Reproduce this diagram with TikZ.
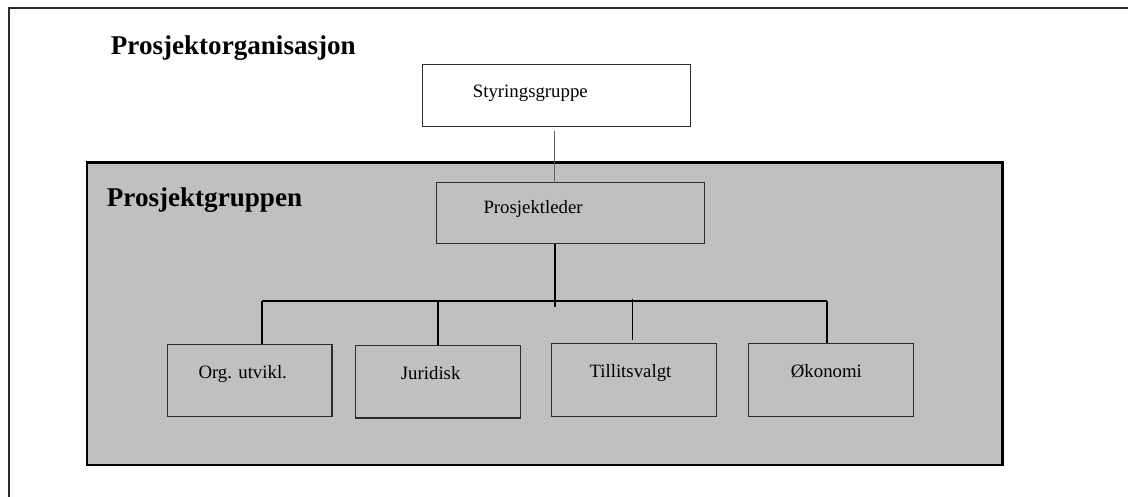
\documentclass[tikz,border=0pt]{standalone}
\usepackage{fontspec}
\setmainfont{Liberation Serif}
\usetikzlibrary{calc}

\definecolor{panelgray}{RGB}{192,192,192}
\definecolor{boxline}{RGB}{45,45,45}
\definecolor{thinline}{RGB}{95,95,95}

\tikzset{
  orgbox/.style={draw=boxline, line width=1.2pt, rectangle, inner sep=0pt,
                 anchor=north west, minimum width=#1, minimum height=62pt},
  orgbox/.default=268pt,
  boxtext/.style={anchor=base west, inner sep=0pt,
                  font=\fontsize{18.8pt}{22pt}\selectfont},
  headtext/.style={anchor=base west, inner sep=0pt,
                   font=\fontsize{27.1pt}{31pt}\selectfont\bfseries},
  bus/.style={line width=2pt, draw=black},
  drop/.style={line width=1.6pt, draw=black},
}

\begin{document}
\begin{tikzpicture}[x=1pt, y=-1pt]
  \useasboundingbox (0,0) rectangle (1128,497);

  % outer frame (top and left edges)
  \draw[line width=2pt, draw=boxline] (9,497) -- (9,8) -- (1128,8);

  % project group panel
  \draw[fill=panelgray, draw=black, line width=2.6pt] (87,162.5) rectangle (1002.5,465);

  % headings
  \node[headtext] (title) at (110.7,54.3) {Prosjektorganisasjon};
  \node[headtext] (group) at (106.7,206.7) {Prosjektgruppen};

  % steering group and project leader
  \node[orgbox, fill=white] (sty) at (421.7,64) {};
  \node[boxtext] (styt) at (472.7,97.7) {Styringsgruppe};

  \node[orgbox, minimum height=61.6pt] (pl) at (435.7,181.7) {};
  \node[boxtext] (plt) at (483.3,213.3) {Prosjektleder};

  % sub-groups
  \node[orgbox={164.6pt}, minimum height=72pt] (org) at (166.7,344) {};
  \node[boxtext] (orgt) at (198.3,378.3) {Org. utvikl.};

  \node[orgbox={165pt}, minimum height=72.3pt] (jur) at (355,345) {};
  \node[boxtext] (jurt) at (400.7,379) {Juridisk};

  \node[orgbox={164.7pt}, minimum height=73pt] (til) at (551,342.7) {};
  \node[boxtext] (tilt) at (589.3,377.3) {Tillitsvalgt};

  \node[orgbox={164.7pt}, minimum height=73pt] (oko) at (748,342.7) {};
  \node[boxtext] (okot) at (790.7,377.3) {Økonomi};

  % bus junctions
  \coordinate (jorg) at (262,301);
  \coordinate (jjur) at (437.7,301);
  \coordinate (jmid) at (554.7,301);
  \coordinate (jtil) at (632.3,301);
  \coordinate (joko) at (827,301);
  \coordinate (stydrop) at (554.3,131);

  % connectors
  \draw[line width=1pt, draw=thinline] (stydrop) -- (stydrop |- pl.north) -- ++(0,1.3);
  \draw[drop] (jmid |- pl.south) -- ($(jmid)+(0,5.7)$);
  \draw[bus] (jorg) -- (joko);
  \draw[drop] (jorg) -- (jorg |- org.north);
  \draw[drop] (jjur) -- (jjur |- jur.north);
  \draw[drop] ($(jtil)+(0,-1.7)$) -- ($(til.north -| jtil)+(0,-2.7)$);
  \draw[drop] (joko) -- (joko |- oko.north);
\end{tikzpicture}
\end{document}
